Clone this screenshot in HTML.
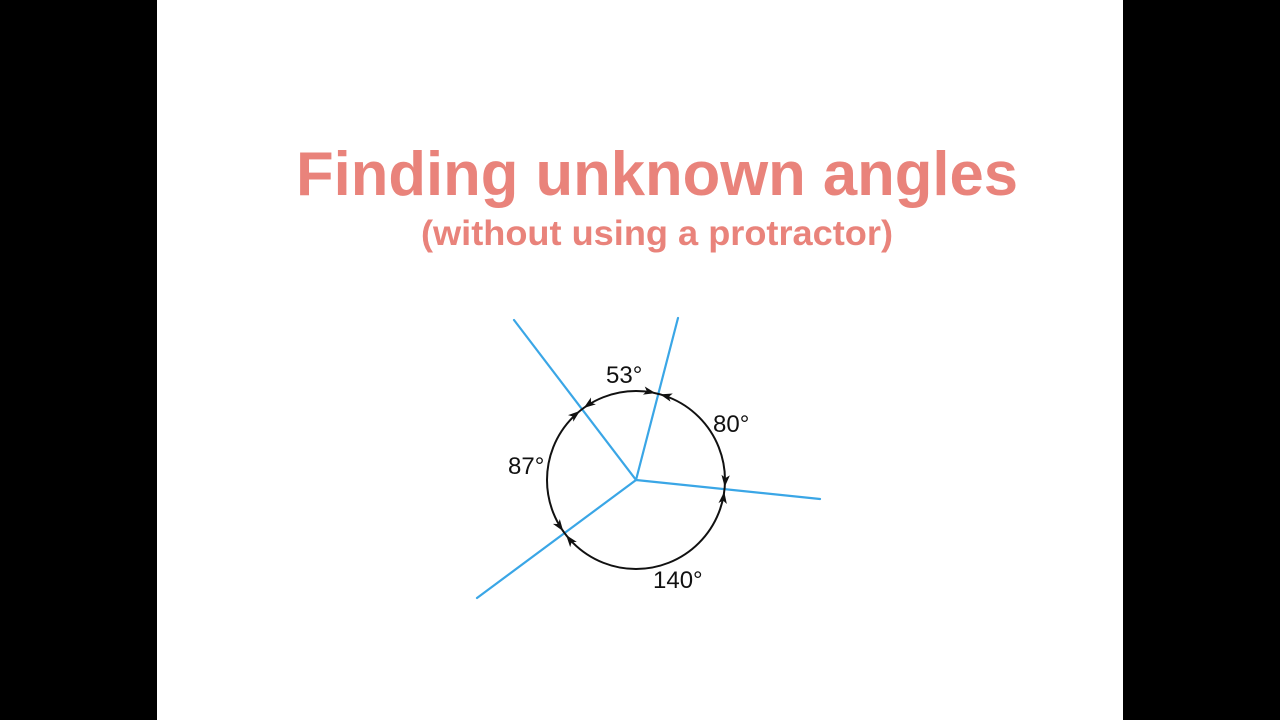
<!DOCTYPE html>
<html><head><meta charset="utf-8"><style>
html,body{margin:0;padding:0;background:#000;}
svg{display:block;}
</style></head><body>
<svg width="1280" height="720" viewBox="0 0 1280 720" xmlns="http://www.w3.org/2000/svg">
<defs>
<polygon id="ah" points="0,0 -12,-4.2 -9,0 -12,4.2" fill="#111"/>
</defs>
<rect x="0" y="0" width="1280" height="720" fill="#000"/>
<rect x="157" y="0" width="966" height="720" fill="#fff"/>
<text x="296" y="195" textLength="722" lengthAdjust="spacingAndGlyphs" font-family="Liberation Sans, sans-serif" font-weight="bold" font-size="62" fill="#e9837b">Finding unknown angles</text>
<text x="421" y="245" textLength="472" lengthAdjust="spacingAndGlyphs" font-family="Liberation Sans, sans-serif" font-weight="bold" font-size="35" fill="#e9837b">(without using a protractor)</text>
<g stroke="#3aa6e6" stroke-width="2.2" stroke-linecap="round">
<line x1="636" y1="480" x2="514" y2="320"/>
<line x1="636" y1="480" x2="678" y2="318"/>
<line x1="636" y1="480" x2="820" y2="499"/>
<line x1="636" y1="480" x2="477" y2="598"/>
</g>
<circle cx="636" cy="480" r="89" fill="none" stroke="#111" stroke-width="2"/>
<g>
<use href="#ah" transform="rotate(-129 636 480) translate(725 480) rotate(90)"/>
<use href="#ah" transform="rotate(-126 636 480) translate(725 480) rotate(-90)"/>
<use href="#ah" transform="rotate(-77.3 636 480) translate(725 480) rotate(90)"/>
<use href="#ah" transform="rotate(-74.3 636 480) translate(725 480) rotate(-90)"/>
<use href="#ah" transform="rotate(4.5 636 480) translate(725 480) rotate(90)"/>
<use href="#ah" transform="rotate(7.5 636 480) translate(725 480) rotate(-90)"/>
<use href="#ah" transform="rotate(141.8 636 480) translate(725 480) rotate(90)"/>
<use href="#ah" transform="rotate(144.8 636 480) translate(725 480) rotate(-90)"/>
</g>
<g font-family="Liberation Sans, sans-serif" font-size="24" fill="#111">
<text x="606" y="383">53°</text>
<text x="713" y="432">80°</text>
<text x="508" y="474">87°</text>
<text x="653" y="588">140°</text>
</g>
</svg>
</body></html>
